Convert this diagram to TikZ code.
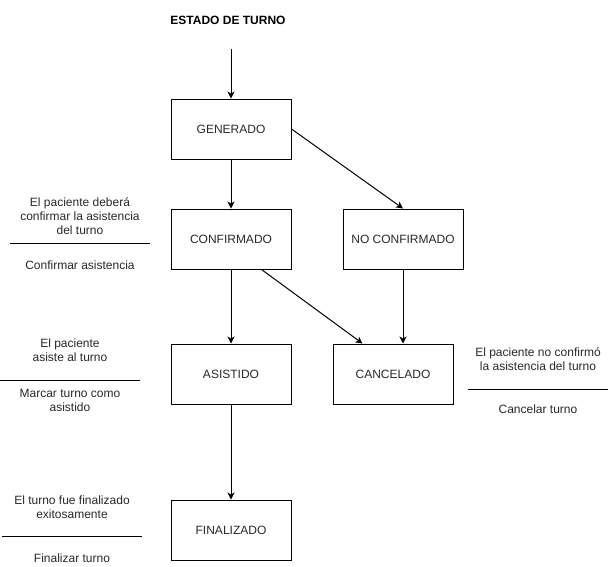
\documentclass[tikz,border=0pt]{standalone}
\usepackage{fontspec}
\setmainfont{Liberation Sans}
\usepackage{xcolor}
\usetikzlibrary{arrows.meta}
\definecolor{txtgris}{RGB}{40,40,40}

\begin{document}
\begin{tikzpicture}[x=1pt, y=-1pt,
    every node/.style={font=\fontsize{12}{14}\selectfont, text=txtgris},
    estado/.style={draw=black, line width=1pt, minimum width=120pt,
                   minimum height=60pt, inner sep=0pt},
    nota/.style={align=center, inner sep=0pt},
    regla/.style={draw=black, line width=1pt},
    flecha/.style={-{Stealth[length=7pt,width=7pt,inset=2pt]}, line width=1pt}]
  \useasboundingbox (0,0) rectangle (610,566);

  % titulo y estados
  \node[font=\fontsize{12}{14}\selectfont\bfseries, text=black] (titulo) at (228,20) {ESTADO DE TURNO};
  \coordinate (inicio) at (231,49);
  \node[estado] (gen) at (231,129) {GENERADO};
  \node[estado] (conf) at (231,239) {CONFIRMADO};
  \node[estado] (nocon) at (403,239) {NO CONFIRMADO};
  \node[estado] (asis) at (231,374) {ASISTIDO};
  \node[estado] (canc) at (393,374) {CANCELADO};
  \node[estado] (fin) at (231,530) {FINALIZADO};

  % transiciones
  \draw[flecha] (inicio) -- (gen.north);
  \draw[flecha] (gen.south) -- (conf.north);
  \draw[flecha] (gen.east) -- (nocon.north);
  \draw[flecha] (conf.south) -- (asis.north);
  \draw[flecha] (conf.-45) -- (canc.135);
  \draw[flecha] (nocon.south) -- (nocon.south |- canc.north);
  \draw[flecha] (asis.south) -- (fin.north);

  % notas
  \node[nota] (notaconf) at (80,216) {El paciente deberá\\confirmar la asistencia\\del turno};
  \draw[regla] (10,243) -- (150,243);
  \node[nota] (accconf) at (80,265) {Confirmar asistencia};

  \node[nota] (notaasis) at (70,350) {El paciente\\asiste al turno};
  \draw[regla] (0,380) -- (140,380);
  \node[nota] (accasis) at (70,400) {Marcar turno como\\asistido};

  \node[nota] (notacanc) at (538,359) {El paciente no confirmó\\la asistencia del turno};
  \draw[regla] (468,389) -- (608,389);
  \node[nota] (acccanc) at (538,409) {Cancelar turno};

  \node[nota] (notafin) at (72,507) {El turno fue finalizado\\exitosamente};
  \draw[regla] (2,536) -- (142,536);
  \node[nota] (accfin) at (72,558) {Finalizar turno};
\end{tikzpicture}
\end{document}
